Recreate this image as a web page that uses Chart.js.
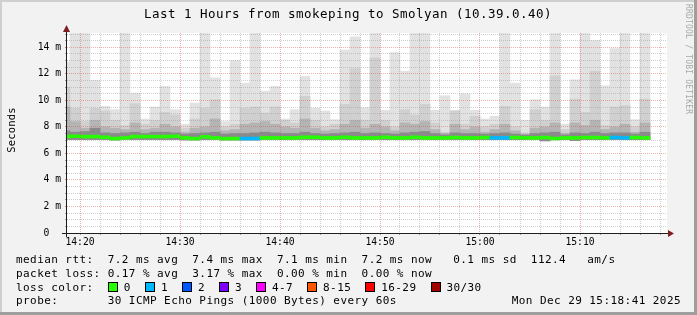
<!DOCTYPE html>
<html>
<head>
<meta charset="utf-8">
<script src="https://cdn.jsdelivr.net/npm/chart.js@4.4.1/dist/chart.umd.min.js"></script>
<style>
  html, body { margin: 0; padding: 0; background: #f2f2f2; }
  canvas { display: block; }
</style>
</head>
<body>
<canvas id="smoke" width="697" height="315"></canvas>
<script>
// one bar per minute, 30 pings each
const minutes = [
  '14:18','14:19','14:20','14:21','14:22','14:23','14:24','14:25','14:26','14:27',
  '14:28','14:29','14:30','14:31','14:32','14:33','14:34','14:35','14:36','14:37',
  '14:38','14:39','14:40','14:41','14:42','14:43','14:44','14:45','14:46','14:47',
  '14:48','14:49','14:50','14:51','14:52','14:53','14:54','14:55','14:56','14:57',
  '14:58','14:59','15:00','15:01','15:02','15:03','15:04','15:05','15:06','15:07',
  '15:08','15:09','15:10','15:11','15:12','15:13','15:14','15:15','15:16'
];

// all values in ms
const medianRtt = [
  7.27, 7.30, 7.27, 7.27, 7.22, 7.12, 7.17, 7.27, 7.27, 7.27,
  7.27, 7.30, 7.17, 7.12, 7.25, 7.17, 7.12, 7.12, 7.12, 7.12,
  7.17, 7.17, 7.17, 7.17, 7.22, 7.22, 7.17, 7.17, 7.22, 7.17,
  7.17, 7.17, 7.22, 7.17, 7.17, 7.22, 7.17, 7.17, 7.17, 7.20,
  7.17, 7.17, 7.20, 7.17, 7.17, 7.20, 7.17, 7.17, 7.20, 7.12,
  7.17, 7.17, 7.20, 7.20, 7.17, 7.20, 7.17, 7.20, 7.17
];
const lossCount = [
  0, 0, 0, 0, 0, 0, 0, 0, 0, 0,
  0, 0, 0, 0, 0, 0, 0, 0, 1, 1,
  0, 0, 0, 0, 0, 0, 0, 0, 0, 0,
  0, 0, 0, 0, 0, 0, 0, 0, 0, 0,
  0, 0, 0, 1, 1, 0, 0, 0, 0, 0,
  0, 0, 0, 0, 0, 1, 1, 0, 0
];
const pingMin = [
  7.05, 7.05, 7.05, 7.05, 7.05, 7.02, 7.05, 7.05, 7.05, 7.05,
  7.05, 7.05, 7.02, 7.02, 7.05, 7.05, 7.02, 7.02, 7.02, 7.02,
  7.05, 7.05, 7.05, 7.05, 7.05, 7.05, 7.05, 7.05, 7.05, 7.05,
  7.05, 7.05, 7.05, 7.05, 7.05, 7.05, 7.05, 7.05, 7.05, 7.05,
  7.05, 7.05, 7.05, 7.05, 7.05, 7.05, 7.05, 7.05, 6.95, 7.05,
  7.05, 6.97, 7.05, 7.05, 7.05, 7.05, 7.05, 7.05, 7.05
];
const smokeNear = [
  7.70, 7.60, 7.65, 7.90, 7.55, 7.50, 7.55, 7.60, 7.50, 7.60,
  7.60, 7.55, 7.45, 7.50, 7.55, 7.60, 7.45, 7.50, 7.50, 7.55,
  7.60, 7.55, 7.50, 7.50, 7.60, 7.50, 7.45, 7.50, 7.55, 7.60,
  7.50, 7.55, 7.50, 7.45, 7.55, 7.60, 7.65, 7.50, 7.40, 7.55,
  7.50, 7.50, 7.45, 7.50, 7.55, 7.45, 7.40, 7.50, 7.55, 7.60,
  7.40, 7.55, 7.50, 7.60, 7.50, 7.55, 7.55, 7.45, 7.60
];
const smokeLow = [
  9.50, 8.40, 7.90, 8.50, 8.00, 7.90, 7.80, 8.30, 7.80, 7.90,
  8.20, 8.00, 7.60, 7.90, 8.00, 8.60, 7.70, 7.80, 8.20, 8.30,
  8.40, 8.20, 8.00, 7.90, 8.60, 7.90, 7.70, 7.80, 8.20, 8.50,
  7.90, 8.20, 8.00, 7.70, 8.30, 8.20, 8.40, 7.80, 7.50, 8.20,
  7.80, 8.00, 7.60, 7.80, 8.20, 7.70, 7.40, 7.90, 8.00, 8.30,
  7.50, 8.30, 8.10, 8.50, 7.80, 8.00, 8.20, 7.60, 8.30
];
const smokeMid = [
  11.00, 9.40, 8.40, 9.40, 9.20, 8.50, 8.10, 9.75, 8.20, 8.50,
  9.10, 8.90, 7.90, 8.60, 9.40, 10.05, 8.00, 8.20, 9.40, 9.50,
  9.05, 9.50, 8.50, 8.30, 10.30, 8.50, 8.00, 8.20, 9.70, 12.40,
  8.50, 13.20, 8.50, 8.00, 9.30, 8.90, 9.70, 8.30, 7.60, 9.20,
  8.20, 8.80, 8.00, 8.20, 9.55, 8.00, 7.55, 9.30, 8.50, 11.85,
  7.80, 10.10, 9.10, 12.20, 8.10, 9.50, 9.60, 8.00, 10.10
];
const smokeMax = [
  12.90, 15.10, 15.10, 11.50, 9.55, 9.30, 15.10, 10.55, 8.60, 9.50,
  11.05, 9.30, 8.20, 9.80, 15.10, 11.70, 8.40, 13.00, 11.30, 15.10,
  10.70, 11.05, 8.60, 9.30, 11.80, 9.40, 9.20, 8.55, 13.80, 14.80,
  9.45, 15.10, 9.25, 13.60, 12.20, 15.10, 15.10, 9.25, 10.35, 9.25,
  10.50, 9.25, 8.60, 8.80, 15.10, 11.30, 8.50, 10.05, 9.50, 15.10,
  8.20, 11.55, 15.10, 14.50, 11.10, 13.90, 15.10, 8.55, 15.10
];

const xLabels = ['14:20', '14:30', '14:40', '14:50', '15:00', '15:10'];
const yTickValues = [0, 2, 4, 6, 8, 10, 12, 14];
const yTickLabels = ['0  ', '2 m', '4 m', '6 m', '8 m', '10 m', '12 m', '14 m'];

const lossLabels = ['0', '1', '2', '3', '4-7', '8-15', '16-29', '30/30'];
const lossColors = ['#26ff00', '#00b8ff', '#0059ff', '#7e00ff', '#ff00ff', '#ff5500', '#ff0000', '#a10000'];

const titleText = 'Last 1 Hours from smokeping to Smolyan (10.39.0.40)';
const legendLines = [
  'median rtt:  7.2 ms avg  7.4 ms max  7.1 ms min  7.2 ms now   0.1 ms sd  112.4   am/s',
  'packet loss: 0.17 % avg  3.17 % max  0.00 % min  0.00 % now'
];
const probeText = 'probe:       30 ICMP Echo Pings (1000 Bytes) every 60s';
const stampText = 'Mon Dec 29 15:18:41 2025';

const MONO = "'DejaVu Sans Mono', monospace";
const W = 697, H = 315;

// minutes after 14:00
function toMin(s) {
  const p = s.split(':').map(Number);
  return (p[0] - 14) * 60 + p[1];
}
function lossIndex(n) {
  if (n <= 3) return n;
  if (n <= 7) return 4;
  if (n <= 15) return 5;
  if (n <= 29) return 6;
  return 7;
}

const xs = minutes.map(m => toMin(m) + 0.5);
function band(lo, hi) {
  return xs.map((x, i) => ({ x: x, y: [lo[i], hi[i]] }));
}

const rrdLook = {
  id: 'rrdLook',
  beforeDraw(chart) {
    const ctx = chart.ctx, a = chart.chartArea;
    ctx.save();
    ctx.fillStyle = '#f2f2f2';
    ctx.fillRect(0, 0, W, H);
    ctx.fillStyle = '#cfcfcf';
    ctx.fillRect(0, 0, W, 2);
    ctx.fillRect(0, 0, 2, H);
    ctx.fillStyle = '#9e9e9e';
    ctx.fillRect(0, H - 3, W, 3);
    ctx.fillRect(W - 3, 0, 3, H);
    ctx.fillStyle = '#ffffff';
    ctx.fillRect(a.left, a.top, a.right - a.left, a.bottom - a.top);
    ctx.restore();
  },
  afterDraw(chart) {
    const ctx = chart.ctx, a = chart.chartArea;
    ctx.save();

    // axes + arrows
    ctx.strokeStyle = '#1f1f1f';
    ctx.lineWidth = 1;
    ctx.beginPath();
    ctx.moveTo(a.left - 5, a.bottom + 0.5);
    ctx.lineTo(a.right + 3, a.bottom + 0.5);
    ctx.moveTo(a.left - 0.5, a.bottom + 4);
    ctx.lineTo(a.left - 0.5, a.top - 3);
    ctx.stroke();
    ctx.fillStyle = '#801f1f';
    ctx.beginPath();
    ctx.moveTo(a.right + 1, a.bottom - 3);
    ctx.lineTo(a.right + 7, a.bottom + 0.5);
    ctx.lineTo(a.right + 1, a.bottom + 4);
    ctx.closePath();
    ctx.fill();
    ctx.beginPath();
    ctx.moveTo(a.left - 4, a.top - 1);
    ctx.lineTo(a.left - 0.5, a.top - 8);
    ctx.lineTo(a.left + 3, a.top - 1);
    ctx.closePath();
    ctx.fill();

    // title
    ctx.fillStyle = '#000';
    ctx.font = '12.5px ' + MONO;
    ctx.letterSpacing = '0.47px';
    ctx.textAlign = 'center';
    ctx.textBaseline = 'alphabetic';
    ctx.fillText(titleText, 348, 18);

    // unit label
    ctx.save();
    ctx.font = '10.5px ' + MONO;
    ctx.letterSpacing = '0.2px';
    ctx.translate(14.5, 130);
    ctx.rotate(-Math.PI / 2);
    ctx.fillText('Seconds', 0, 0);
    ctx.restore();

    // legend
    ctx.font = '11px ' + MONO;
    ctx.letterSpacing = '0.43px';
    ctx.textAlign = 'left';
    const cw = 7.05, x0 = 16;
    ctx.fillText(legendLines[0], x0, 263);
    ctx.fillText(legendLines[1], x0, 277);
    ctx.fillText('loss color:', x0, 290.5);
    let col = 13.05;
    lossLabels.forEach((lab, i) => {
      const bx = Math.round(x0 + col * cw);
      ctx.fillStyle = '#000';
      ctx.fillRect(bx, 282, 10, 10);
      ctx.fillStyle = lossColors[i];
      ctx.fillRect(bx + 1, 283, 8, 8);
      ctx.fillStyle = '#000';
      const lx = x0 + (col + 2.25) * cw;
      ctx.fillText(lab, lx, 290.5);
      col = col + 2.25 + lab.length + 2;
    });
    ctx.fillText(probeText, x0, 304);
    ctx.textAlign = 'right';
    ctx.fillText(stampText, 681, 304);

    // watermark
    ctx.save();
    ctx.font = '8px ' + MONO;
    ctx.letterSpacing = '0.2px';
    ctx.fillStyle = '#a8a8a8';
    ctx.textAlign = 'left';
    ctx.textBaseline = 'middle';
    ctx.translate(688.5, 4);
    ctx.rotate(Math.PI / 2);
    ctx.fillText('RRDTOOL / TOBI OETIKER', 0, 0);
    ctx.restore();

    ctx.restore();
  }
};

const gray = 'rgba(143,143,143,0.42)';
const red = 'rgba(222,79,79,0.45)';

new Chart(document.getElementById('smoke'), {
  type: 'bar',
  data: {
    datasets: [
      {
        label: 'median rtt',
        data: xs.map((x, i) => ({ x: x, y: [medianRtt[i] - 0.11, medianRtt[i] + 0.11] })),
        backgroundColor: lossCount.map(n => lossColors[lossIndex(n)])
      },
      { label: 'smoke 4', data: band(pingMin, smokeNear), backgroundColor: '#8a8a8a' },
      { label: 'smoke 3', data: band(pingMin, smokeLow), backgroundColor: '#b4b4b4' },
      { label: 'smoke 2', data: band(pingMin, smokeMid), backgroundColor: '#d0d0d0' },
      { label: 'smoke 1', data: band(pingMin, smokeMax), backgroundColor: '#e2e2e2' }
    ]
  },
  options: {
    responsive: false,
    devicePixelRatio: 1,
    animation: false,
    events: [],
    layout: { padding: { left: 0, right: 30, top: 33, bottom: 0 } },
    datasets: {
      bar: {
        grouped: false,
        barPercentage: 1,
        categoryPercentage: 1,
        borderWidth: 0,
        clip: 0
      }
    },
    plugins: {
      legend: { display: false },
      title: { display: false },
      tooltip: { enabled: false }
    },
    scales: {
      x: {
        type: 'linear',
        min: 18.7,
        max: 78.7,
        offset: false,
        afterFit: s => { s.height = 82; },
        afterBuildTicks: s => {
          const t = [];
          for (let v = 20; v <= 78; v += 2) t.push({ value: v });
          s.ticks = t;
        },
        grid: {
          offset: false,
          z: 1,
          color: c => (c.tick && c.tick.value % 10 === 0 ? red : gray),
          tickColor: '#9a9a9a',
          tickLength: 2
        },
        border: { display: false, dash: [1, 1] },
        ticks: {
          autoSkip: false,
          maxRotation: 0,
          minRotation: 0,
          padding: 2,
          color: '#000',
          font: { family: MONO, size: 9.7 },
          callback: v => {
            const i = xLabels.map(toMin).indexOf(v);
            return i >= 0 ? xLabels[i] : '';
          }
        }
      },
      y: {
        min: 0,
        max: 15.08,
        afterFit: s => { s.width = 67; },
        afterBuildTicks: s => {
          const t = [];
          for (let v = 0; v <= 15; v += 0.5) t.push({ value: v });
          s.ticks = t;
        },
        grid: {
          z: 1,
          color: c => (c.tick && c.tick.value % 2 === 0 ? red : gray),
          tickColor: '#9a9a9a',
          tickLength: 2
        },
        border: { display: false, dash: [1, 1] },
        ticks: {
          autoSkip: false,
          padding: 4,
          color: '#000',
          font: { family: MONO, size: 9.7 },
          callback: v => {
            const i = yTickValues.indexOf(v);
            return i >= 0 ? yTickLabels[i] : '';
          }
        }
      }
    }
  },
  plugins: [rrdLook]
});
</script>
</body>
</html>
